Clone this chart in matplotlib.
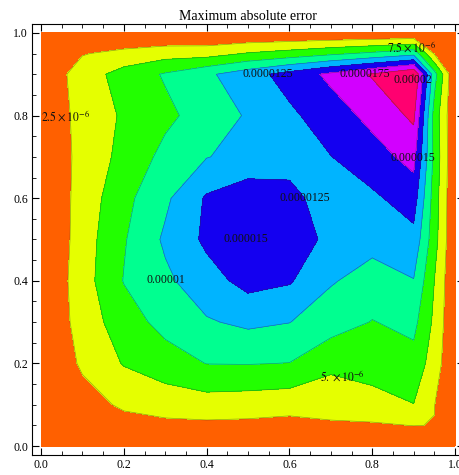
import numpy as np
import matplotlib
matplotlib.use("Agg")
import matplotlib.pyplot as plt
from matplotlib.ticker import MultipleLocator

plt.rcParams['font.family'] = ['Liberation Serif', 'DejaVu Serif']
plt.rcParams['mathtext.fontset'] = 'stix'

# grid nodes (non-uniform, finer near the edges)
xs = [0, 0.05, 0.1, 0.2, 0.3, 0.4, 0.5, 0.6, 0.7, 0.8, 0.9, 0.95, 1.0]
ys = [0, 0.05, 0.1, 0.2, 0.3, 0.4, 0.5, 0.6, 0.7, 0.8, 0.9, 0.95, 1.0]

# max abs error in units of 1e-6, one row per y (bottom to top)
err = [
    [0, 0, 0, 0, 0, 0, 0, 0, 0, 0, 0, 0, 0],
    [0, 0.4, 0.75, 1.61, 1.93, 2.01, 1.94, 1.73, 2.22, 2.18, 2.55, 2.45, 0],
    [0, 0.75, 1.5, 2.88, 3.51, 3.88, 3.68, 3.4, 3.31, 4.2, 4.95, 2.55, 0],
    [0, 1.47, 2.87, 5.16, 6.41, 7.55, 7.6, 7.45, 5.62, 5.92, 6.6, 3.8, 0],
    [0, 1.8, 3.54, 6.38, 8.28, 9.76, 10.5, 10.05, 8.65, 7.4, 8.2, 4.5, 0],
    [0, 1.9, 3.89, 7.6, 9.5, 11.5, 13.35, 12.75, 10.22, 9.0, 9.9, 5.0, 0],
    [0, 1.65, 3.77, 7.28, 10.4, 13.0, 14.2, 13.6, 12.0, 10.8, 11.75, 6.0, 0],
    [0, 1.74, 3.47, 6.77, 9.53, 12.8, 14.0, 13.2, 11.3, 12.05, 13.7, 6.3, 0],
    [0, 1.8, 3.22, 5.76, 8.19, 9.91, 10.8, 11.6, 12.45, 14.0, 15.8, 6.8, 0],
    [0, 1.95, 3.28, 5.34, 6.94, 8.58, 10.26, 12.02, 13.8, 15.7, 18.0, 6.5, 0],
    [0, 2.1, 3.7, 6.0, 7.74, 9.55, 11.46, 13.47, 15.56, 17.72, 20.1, 8.5, 0],
    [0, 2.2, 2.35, 3.2, 3.94, 4.0, 5.2, 6.0, 7.0, 8.0, 9.2, 2.3, 0],
    [0, 0, 0, 0, 0, 0, 0, 0, 0, 0, 0, 0, 0],
]

levels = [-1, 2.5, 5, 7.5, 10, 12.5, 15, 17.5, 20, 25]
band_colors = ['#ff6000', '#e5ff00', '#22ff00', '#00ff90', '#00b4ff',
               '#1400f0', '#d200ff', '#ff0070', '#ff0030']

# contour labels: (text, x, y)
labels = [
    (r'$2.5\times10^{-6}$', 0.06, 0.797),
    (r'$7.5\times10^{-6}$', 0.896, 0.966),
    ('0.0000125', 0.548, 0.90),
    ('0.0000175', 0.783, 0.90),
    ('0.00002', 0.898, 0.886),
    ('0.000015', 0.899, 0.697),
    ('0.0000125', 0.638, 0.60),
    ('0.000015', 0.495, 0.501),
    ('0.00001', 0.302, 0.402),
    (r'$5.\times10^{-6}$', 0.727, 0.168),
]

X, Y = np.meshgrid(xs, ys)
Z = np.array(err)

fig = plt.figure(figsize=(4.59, 4.75), dpi=100)
ax = fig.add_axes([0.0704, 0.042, 0.94, 0.907])

ax.contourf(X, Y, Z, levels=levels, colors=band_colors)
ax.contour(X, Y, Z, levels=levels[1:-1], colors='#303030', linewidths=0.5, alpha=0.45)

for txt, lx, ly in labels:
    ax.text(lx, ly, txt, fontsize=8.5, ha='center', va='center', color='#111111')

ax.set_xlim(-0.021, 1.021)
ax.set_ylim(-0.0218, 1.021)
ax.xaxis.set_major_locator(MultipleLocator(0.2))
ax.xaxis.set_minor_locator(MultipleLocator(0.05))
ax.yaxis.set_major_locator(MultipleLocator(0.2))
ax.yaxis.set_minor_locator(MultipleLocator(0.05))
ax.tick_params(which='both', direction='in', top=True, right=True, labelsize=8.5, pad=3)
ax.tick_params(which='major', length=5, width=0.8)
ax.tick_params(which='minor', length=3, width=0.6)
ax.xaxis.set_major_formatter(plt.FuncFormatter(lambda v, p: f'{v:.1f}'))
ax.yaxis.set_major_formatter(plt.FuncFormatter(lambda v, p: f'{v:.1f}'))
ax.set_title('Maximum absolute error', fontsize=10, pad=3)

fig.savefig('out.png', dpi=100)
